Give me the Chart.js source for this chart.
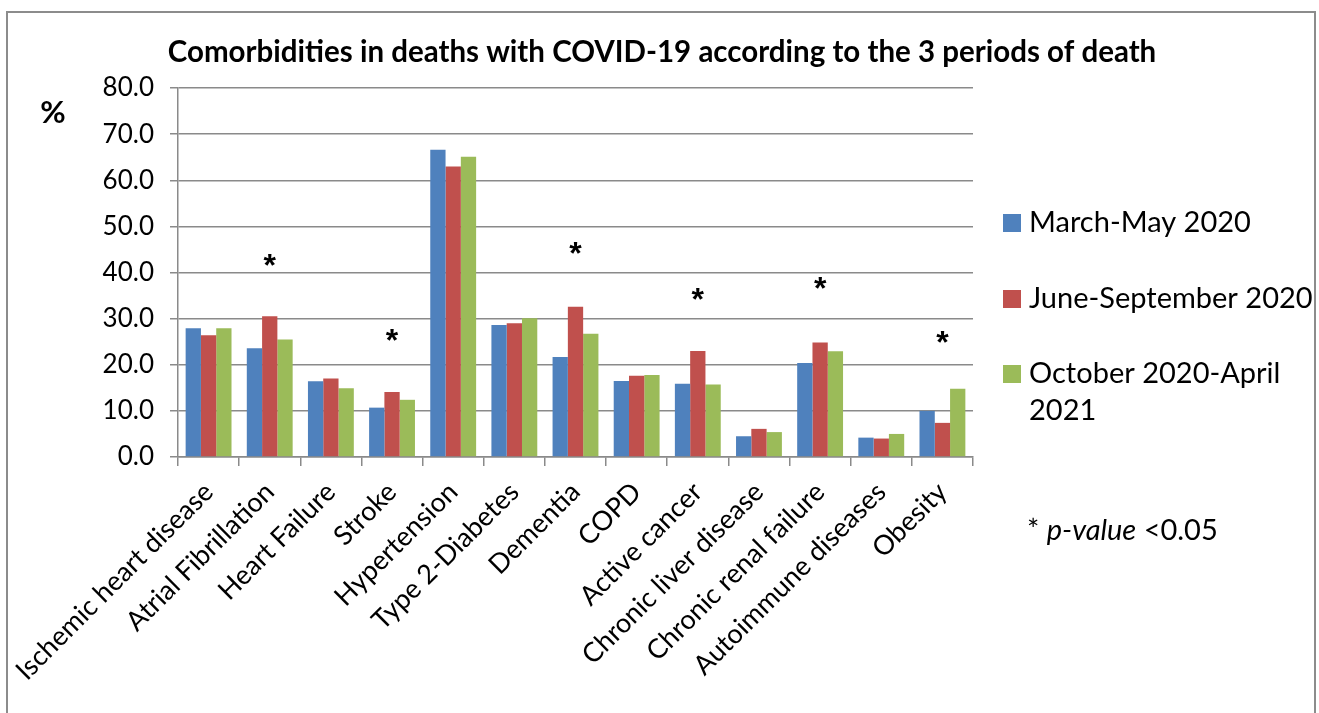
<!DOCTYPE html>
<html>
<head>
<meta charset="utf-8">
<script src="https://cdn.jsdelivr.net/npm/chart.js@4.4.1/dist/chart.umd.min.js"></script>
<style>
  html, body { margin: 0; padding: 0; background: #ffffff; }
  canvas { display: block; }
</style>
</head>
<body>
<canvas id="chart" width="1319" height="713"></canvas>
<script>
// Comorbidity categories on the x axis
const categories = [
  'Ischemic heart disease', 'Atrial Fibrillation', 'Heart Failure', 'Stroke',
  'Hypertension', 'Type 2-Diabetes', 'Dementia', 'COPD', 'Active cancer',
  'Chronic liver disease', 'Chronic renal failure', 'Autoimmune diseases', 'Obesity'
];

// Period names (legend)
const periods = ['March-May 2020', 'June-September 2020', 'October 2020-April 2021'];

// Percentage of deaths with each comorbidity, by period
const marchMay2020 = [27.9, 23.6, 16.4, 10.7, 66.6, 28.6, 21.7, 16.5, 15.9, 4.5, 20.4, 4.2, 10.0];
const juneSep2020  = [26.4, 30.5, 17.0, 14.1, 63.0, 29.0, 32.6, 17.6, 23.0, 6.1, 24.8, 4.0, 7.4];
const oct2020Apr2021 = [27.9, 25.5, 14.9, 12.4, 65.1, 30.1, 26.7, 17.8, 15.7, 5.4, 22.9, 5.0, 14.8];

// Height (in %) of the significance asterisk above each category; null = not significant
const significanceMarks = [null, 42.7, null, 26.4, null, null, 45.3, null, 35.4, null, 37.8, null, 26.1];

// Y axis range and tick step
const yMin = 0, yMax = 80, yStep = 10;

const FONT = 'Lato, "Open Sans", "Noto Sans", sans-serif';
const colors = ['#4F81BD', '#C0504D', '#9BBB59'];
const gridColor = '#8a8a8a';

const seriesValues = [marchMay2020, juneSep2020, oct2020Apr2021];

// Title, "%" label, asterisks, legend, p-value note and frame
const decorations = {
  id: 'decorations',
  afterDraw(chart) {
    const ctx = chart.ctx;
    const xs = chart.scales.x, ys = chart.scales.y;
    ctx.save();

    // frame
    ctx.strokeStyle = '#8c8c8c';
    ctx.lineWidth = 2;
    ctx.strokeRect(7, 12, 1308, 760);

    // title
    ctx.fillStyle = '#000';
    ctx.font = 'bold 29.5px ' + FONT;
    ctx.textAlign = 'center';
    ctx.textBaseline = 'middle';
    ctx.fillText('Comorbidities in deaths with COVID-19 according to the 3 periods of death', 662, 52);

    // unit label
    ctx.font = 'bold 31px ' + FONT;
    ctx.fillText('%', 53, 113);

    // significance asterisks
    ctx.font = 'bold 32px "Liberation Sans", Arial, sans-serif';
    ctx.textAlign = 'center';
    ctx.textBaseline = 'alphabetic';
    const m = ctx.measureText('*');
    const mid = (m.actualBoundingBoxAscent - m.actualBoundingBoxDescent) / 2;
    significanceMarks.forEach((v, i) => {
      if (v === null) return;
      ctx.fillText('*', xs.getPixelForValue(i), ys.getPixelForValue(v) + mid);
    });

    // legend
    const legendFont = '29px ' + FONT;
    ctx.font = legendFont;
    ctx.textAlign = 'left';
    ctx.textBaseline = 'middle';
    const itemY = [223, 299, 374];
    const maxW = 290;
    chart.data.datasets.forEach((ds, i) => {
      ctx.fillStyle = ds.backgroundColor;
      ctx.fillRect(1003, itemY[i] - 9, 18, 18);
      ctx.fillStyle = '#000';
      const words = ds.label.split(' ');
      const lines = [];
      let cur = '';
      words.forEach(w => {
        const t = cur ? cur + ' ' + w : w;
        if (ctx.measureText(t).width > maxW && cur) { lines.push(cur); cur = w; }
        else cur = t;
      });
      lines.push(cur);
      lines.forEach((ln, k) => ctx.fillText(ln, 1029, itemY[i] + k * 37));
    });

    // p-value note
    ctx.textBaseline = 'alphabetic';
    let x = 1027;
    const baseY = 540;
    const parts = [['* ', ''], ['p-value', 'italic '], [' <0.05', '']];
    parts.forEach(([t, style]) => {
      ctx.font = style + legendFont;
      ctx.fillText(t, x, baseY);
      x += ctx.measureText(t).width;
    });

    ctx.restore();
  }
};

new Chart(document.getElementById('chart'), {
  type: 'bar',
  data: {
    labels: categories,
    datasets: periods.map((p, i) => ({
      label: p,
      data: seriesValues[i],
      backgroundColor: colors[i],
      borderWidth: 0,
      categoryPercentage: 0.75,
      barPercentage: 1.0
    }))
  },
  options: {
    responsive: false,
    animation: false,
    layout: { padding: { left: 0, right: 346, top: 88, bottom: 0 } },
    plugins: {
      legend: { display: false },
      title: { display: false },
      tooltip: { enabled: false }
    },
    scales: {
      x: {
        afterFit(scale) { scale.height = 256; },
        grid: {
          offset: true,
          drawOnChartArea: false,
          drawTicks: true,
          tickLength: 9,
          color: gridColor,
          lineWidth: 1.5
        },
        border: { display: true, color: gridColor, width: 1.5 },
        ticks: {
          autoSkip: false,
          maxRotation: 45,
          minRotation: 45,
          color: '#000',
          font: { family: FONT, size: 27 },
          padding: 10
        }
      },
      y: {
        min: yMin,
        max: yMax,
        afterFit(scale) { scale.width = 178; },
        grid: {
          color: gridColor,
          lineWidth: 1.5,
          tickLength: 8
        },
        border: { display: true, color: gridColor, width: 1.5 },
        ticks: {
          stepSize: yStep,
          color: '#000',
          font: { family: FONT, size: 26 },
          padding: 16,
          callback: v => Number(v).toFixed(1)
        }
      }
    }
  },
  plugins: [decorations]
});
</script>
</body>
</html>
